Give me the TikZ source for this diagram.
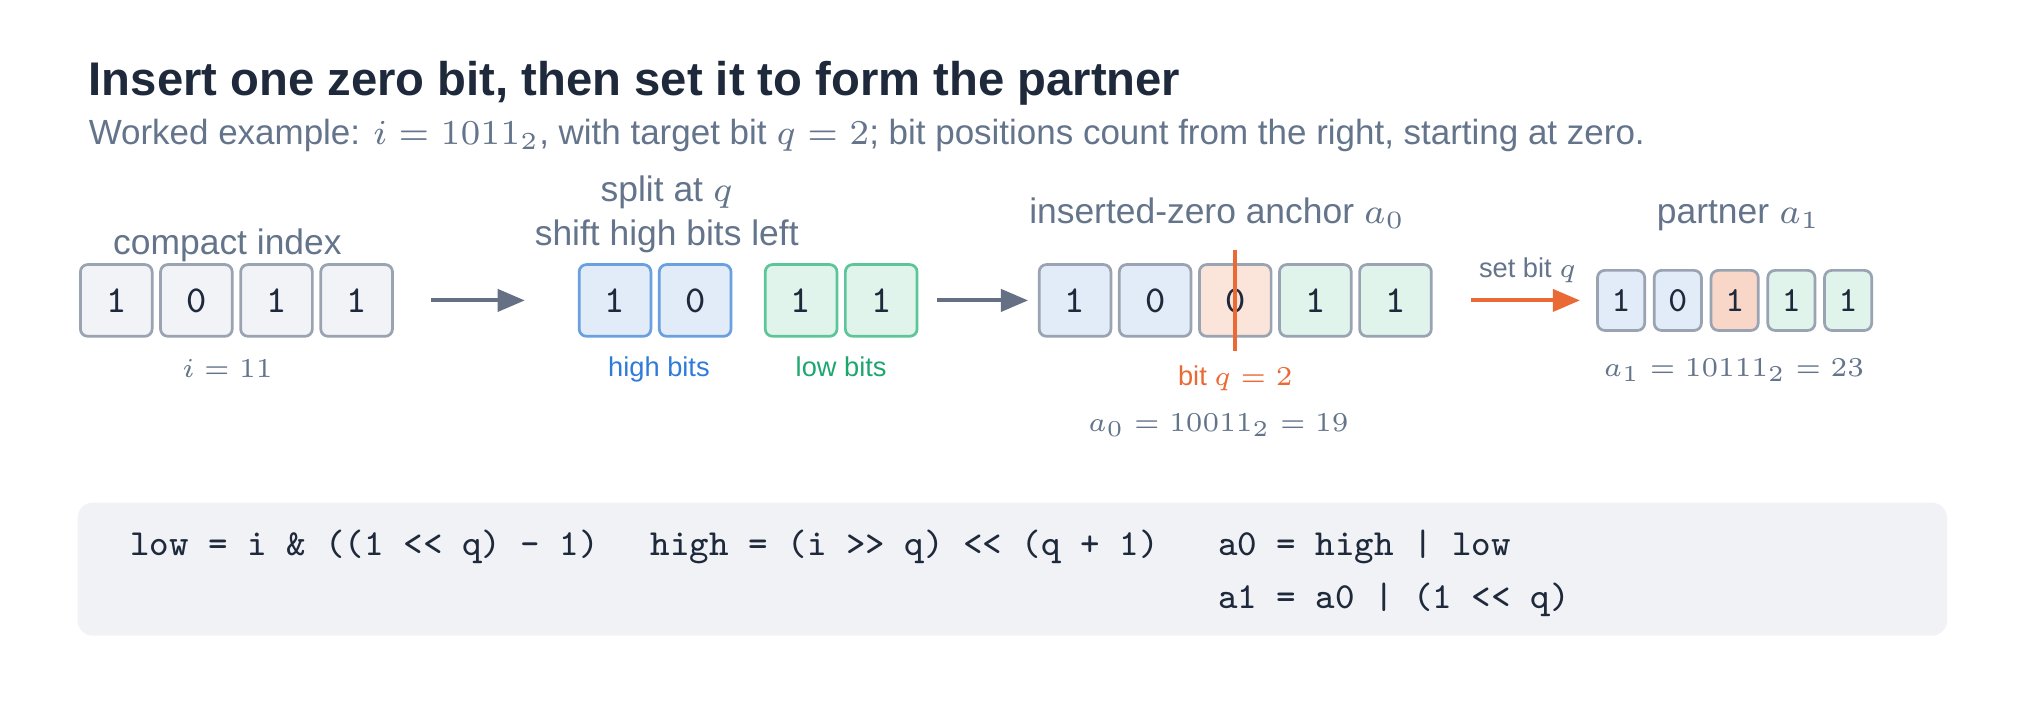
\RequirePackage{fix-cm}
\documentclass[tikz,border=0pt]{standalone}
\usepackage[no-math]{fontspec}
\setmainfont{Liberation Sans}
\usepackage{tikz}
\usetikzlibrary{arrows.meta}

\definecolor{ink}{HTML}{1E293B}
\definecolor{slate}{HTML}{64748B}
\definecolor{boxline}{HTML}{9AA3B2}
\definecolor{boxfill}{HTML}{F1F3F7}
\definecolor{hifill}{HTML}{E2ECF8}
\definecolor{hiline}{HTML}{6A9FE0}
\definecolor{hitext}{HTML}{2F7BD9}
\definecolor{lofill}{HTML}{E0F4EC}
\definecolor{loline}{HTML}{5CC699}
\definecolor{lotext}{HTML}{1FA66F}
\definecolor{zerofill}{HTML}{FBE5DA}
\definecolor{setfill}{HTML}{F9D7C8}
\definecolor{flip}{HTML}{EA6A35}
\definecolor{flowgrey}{HTML}{667085}
\definecolor{panel}{HTML}{F1F2F6}

\begin{document}
\begin{tikzpicture}[
    bitbox/.style={draw=boxline, fill=boxfill, line width=0.6pt, rounded corners=1.6pt,
      minimum width=0.555cm, minimum height=0.555cm, inner sep=0pt, text=ink,
      font=\fontsize{8.4}{10}\ttfamily},
    hibox/.style={bitbox, fill=hifill},
    lobox/.style={bitbox, fill=lofill},
    zbox/.style={bitbox, fill=zerofill},
    pbox/.style={bitbox, minimum width=0.365cm, minimum height=0.465cm,
      font=\fontsize{7.8}{9}\ttfamily},
    title/.style={anchor=base west, inner sep=0pt, text=ink, font=\fontsize{10.4}{12.5}\bfseries},
    sub/.style={anchor=base west, inner sep=0pt, text=slate, font=\fontsize{7.7}{9.2}\selectfont},
    lbl/.style={anchor=base, inner sep=0pt, text=slate, font=\fontsize{7.8}{9.4}\selectfont},
    tag/.style={anchor=base, inner sep=0pt, font=\fontsize{6.0}{7.2}\selectfont},
    val/.style={anchor=base, inner sep=0pt, text=slate, font=\fontsize{6.0}{7.2}\selectfont},
    code/.style={anchor=base west, inner sep=0pt, text=ink, font=\fontsize{8.1}{11.7}\ttfamily},
    flow/.style={line width=0.88pt, flowgrey, -{Triangle[length=0.21cm, width=0.17cm]}},
  ]
  \useasboundingbox (0, 0) rectangle (15.68, -5.534);

  \node [title] (head) at (0.68, -0.74) {Insert one zero bit, then set it to form the partner};
  \node [sub] (subhead) at (0.68, -1.12) {Worked example: $i = 1011_2$, with target bit $q = 2$; bit positions count from the right, starting at zero.};

  % compact index
  \node [lbl] (clbl) at (1.76, -1.97) {compact index};
  \node [bitbox] (c1) at (0.90, -2.325) {1};
  \node [bitbox] (c2) at (1.52, -2.325) {0};
  \node [bitbox] (c3) at (2.14, -2.325) {1};
  \node [bitbox] (c4) at (2.76, -2.325) {1};
  \node [val] (cval) at (1.76, -2.92) {$i = 11$};

  % split
  \node [lbl] (slbl) at (5.16, -1.56) {split at $q$};
  \node [lbl] (shlbl) at (5.16, -1.90) {shift high bits left};
  \node [hibox, draw=hiline] (h1) at (4.76, -2.325) {1};
  \node [hibox, draw=hiline] (h2) at (5.38, -2.325) {0};
  \node [lobox, draw=loline] (l1) at (6.20, -2.325) {1};
  \node [lobox, draw=loline] (l2) at (6.82, -2.325) {1};
  \node [tag, text=hitext] (htag) at (5.10, -2.91) {high bits};
  \node [tag, text=lotext] (ltag) at (6.51, -2.91) {low bits};
  \draw [flow, shorten <=0.29cm, shorten >=0.41cm] (c4) -- (h1);

  % inserted-zero anchor
  \node [lbl] (zlbl) at (9.42, -1.73) {inserted-zero anchor $a_0$};
  \node [hibox] (z1) at (8.32, -2.325) {1};
  \node [hibox] (z2) at (8.94, -2.325) {0};
  \node [zbox] (z3) at (9.56, -2.325) {0};
  \node [lobox] (z4) at (10.18, -2.325) {1};
  \node [lobox] (z5) at (10.80, -2.325) {1};
  \draw [flip, line width=0.88pt] ([yshift=0.1cm]z3.north) -- ([yshift=-0.1cm]z3.south);
  \node [tag, text=flip] (qtag) at (9.56, -2.98) {bit $q = 2$};
  \node [val] (zval) at (9.43, -3.34) {$a_0 = 10011_2 = 19$};
  \draw [flow, shorten <=0.14cm, shorten >=0.075cm] (l2) -- (z1);

  % partner
  \node [lbl] (plbl) at (13.455, -1.73) {partner $a_1$};
  \node [pbox, fill=hifill] (p1) at (12.546, -2.325) {1};
  \node [pbox, fill=hifill] (p2) at (12.985, -2.325) {0};
  \node [pbox, fill=setfill] (p3) at (13.425, -2.325) {1};
  \node [pbox, fill=lofill] (p4) at (13.864, -2.325) {1};
  \node [pbox, fill=lofill] (p5) at (14.303, -2.325) {1};
  \node [val] (pval) at (13.42, -2.91) {$a_1 = 10111_2 = 23$};
  \draw [flow, flip, shorten <=0.30cm, shorten >=0.125cm] (z5) to node [tag, text=slate, anchor=south, above=3.5pt, pos=.58] (setlbl) {set bit $q$} (p1);

  % code panel
  \fill [panel, rounded corners=3.4pt] (0.60, -3.89) rectangle (15.07, -4.92);
  \node [code] (lowcode) at (1.00, -4.30) {low = i \& ((1 << q) - 1)};
  \node [code] (highcode) at (5.03, -4.30) {high = (i >> q) << (q + 1)};
  \node [code] (a0code) at (9.42, -4.30) {a0 = high | low};
  \node [code] (a1code) at (9.42, -4.71) {a1 = a0 | (1 << q)};
\end{tikzpicture}
\end{document}
